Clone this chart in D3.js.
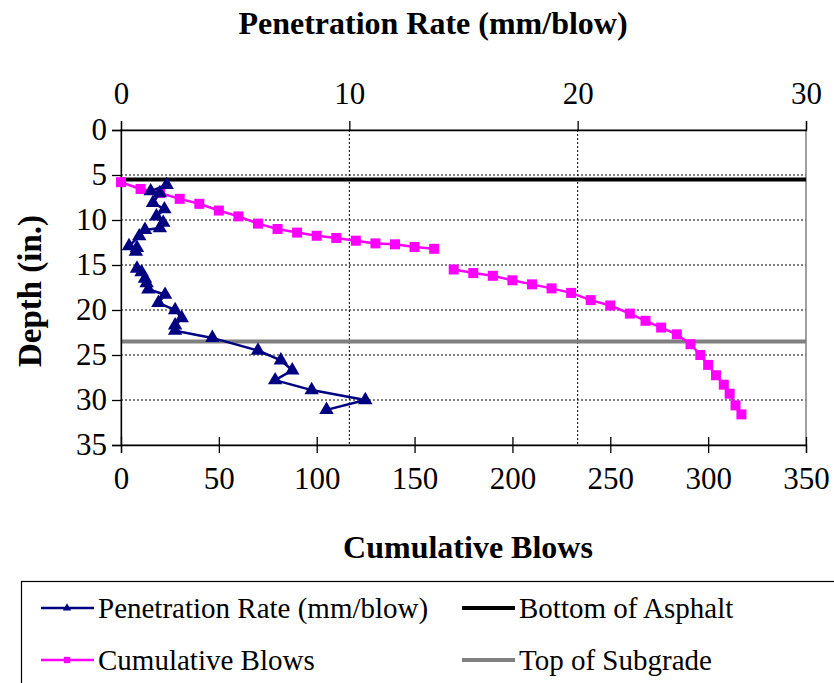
<!DOCTYPE html>
<html><head><meta charset="utf-8">
<script src="https://cdn.jsdelivr.net/npm/d3@7"></script>
<style>body{margin:0;background:#fff}svg text{font-family:"Liberation Serif",serif;fill:#000}</style>
</head><body><svg id="c" width="834" height="683"></svg>
<script>
// Penetration rate series (depth in., mm/blow); null marks a gap
const rateDepth = [6.1,6.8,7.0,8.1,8.8,9.6,10.3,10.9,11.1,11.8,12.9,13.1,13.5,null,15.4,15.8,16.5,17.0,17.7,18.3,19.2,20.0,20.9,21.7,22.3,23.1,24.5,25.6,26.7,27.8,28.9,30.0,31.1];
const rateValue = [2.0,1.3,1.7,1.4,1.9,1.55,1.85,1.7,1.05,0.8,0.35,0.7,0.65,null,0.7,0.9,1.05,1.12,1.2,1.93,1.64,2.37,2.66,2.37,2.37,4.0,6.0,7.0,7.5,6.75,8.35,10.7,9.0];
// Cumulative blows series
const blowsDepth = [5.8,6.55,7.0,7.65,8.2,8.95,9.6,10.4,11.0,11.4,11.75,12.0,12.3,12.6,12.7,13.0,13.2,null,15.5,15.9,16.2,16.7,17.15,17.6,18.1,18.9,19.5,20.4,21.2,21.95,22.7,23.8,25.0,26.1,27.25,28.3,29.3,30.6,31.6];
const blowsValue = [0,10,20,30,40,50,60,70,80,90,100,110,120,130,140,150,160,null,170,180,190,200,210,220,230,240,250,260,268,276,284,291,296,300,304,308,311,314,317];
const asphaltDepth = 5.5;
const subgradeDepth = 23.5;
const topTicks = [0,10,20,30];
const bottomTicks = [0,50,100,150,200,250,300,350];
const depthTicks = [0,5,10,15,20,25,30,35];
const gridTopTicks = [10,20];
const gridDepth = [5,10,15,20,25,30];

const FONT = '"Liberation Serif", serif';
const svg = d3.select("#c");
const L=121,R=806,T=130,B=445;
const xTop = d3.scaleLinear().domain([0,30]).range([L,R]);
const xBot = d3.scaleLinear().domain([0,350]).range([L,R]);
const y = d3.scaleLinear().domain([0,35]).range([T,B]);

// gridlines
svg.append("g").selectAll("line").data(gridDepth).join("line")
  .attr("x1",L).attr("x2",R).attr("y1",d=>y(d)).attr("y2",d=>y(d))
  .attr("stroke","#000").attr("stroke-width",1).attr("stroke-dasharray","2,2");
svg.append("g").selectAll("line").data(gridTopTicks).join("line")
  .attr("x1",d=>xTop(d)).attr("x2",d=>xTop(d)).attr("y1",T).attr("y2",B)
  .attr("stroke","#000").attr("stroke-width",1).attr("stroke-dasharray","2,2");

// plot border
svg.append("rect").attr("x",L).attr("y",T).attr("width",R-L).attr("height",B-T)
  .attr("fill","none").attr("stroke","#808080").attr("stroke-width",1.5);

// reference lines
svg.append("line").attr("x1",L).attr("x2",R).attr("y1",y(asphaltDepth)).attr("y2",y(asphaltDepth))
  .attr("stroke","#000").attr("stroke-width",4);
svg.append("line").attr("x1",L).attr("x2",R).attr("y1",y(subgradeDepth)).attr("y2",y(subgradeDepth))
  .attr("stroke","#808080").attr("stroke-width",4);

// axes
const fs = "31px";
const axTop = svg.append("g").attr("transform",`translate(0,${T})`)
  .call(d3.axisTop(xTop).tickValues(topTicks).tickSize(9).tickPadding(17).tickFormat(d3.format("d")));
const axBot = svg.append("g").attr("transform",`translate(0,${B})`)
  .call(d3.axisBottom(xBot).tickValues(bottomTicks).tickSize(8).tickPadding(14).tickFormat(d3.format("d")));
axBot.selectAll(".tick line").attr("y1",-8);
const axL = svg.append("g").attr("transform",`translate(${L},0)`)
  .call(d3.axisLeft(y).tickValues(depthTicks).tickSize(9).tickPadding(5).tickFormat(d3.format("d")));
[axTop,axBot,axL].forEach(a=>{
  a.attr("font-family",FONT);
  a.selectAll("text").style("font-size",fs).style("font-family",FONT);
  a.selectAll("line,path").attr("stroke","#000").attr("stroke-width",1.3);
});

// series
const navy="#000080", mag="#ff00ff";
const rateData = rateDepth.map((d,i)=>({d, v:rateValue[i]}));
const blowData = blowsDepth.map((d,i)=>({d, v:blowsValue[i]}));
const lr = d3.line().defined(p=>p.d!==null).x(p=>xTop(p.v)).y(p=>y(p.d));
const lb = d3.line().defined(p=>p.d!==null).x(p=>xBot(p.v)).y(p=>y(p.d));
svg.append("path").attr("d",lb(blowData)).attr("fill","none").attr("stroke",mag).attr("stroke-width",2.5);
svg.append("g").selectAll("path").data(blowData.filter(p=>p.d!==null)).join("path")
  .attr("d",d3.symbol(d3.symbolSquare,100)()).attr("fill",mag)
  .attr("transform",p=>`translate(${xBot(p.v)},${y(p.d)})`);
svg.append("path").attr("d",lr(rateData)).attr("fill","none").attr("stroke",navy).attr("stroke-width",2.5);
svg.append("g").selectAll("path").data(rateData.filter(p=>p.d!==null)).join("path")
  .attr("d",d3.symbol(d3.symbolTriangle,90)()).attr("fill",navy)
  .attr("transform",p=>`translate(${xTop(p.v)},${y(p.d)})`);

// titles
svg.append("text").attr("x",433).attr("y",34).attr("text-anchor","middle")
  .style("font-size","32px").style("font-weight","bold").text("Penetration Rate (mm/blow)");
svg.append("text").attr("x",468).attr("y",558).attr("text-anchor","middle")
  .style("font-size","32px").style("font-weight","bold").text("Cumulative Blows");
svg.append("text").attr("transform","translate(41,291) rotate(-90)").attr("text-anchor","middle")
  .style("font-size","33px").style("font-weight","bold").text("Depth (in.)");

// legend
svg.append("rect").attr("x",21.5).attr("y",581.5).attr("width",830).attr("height",120)
  .attr("fill","none").attr("stroke","#000").attr("stroke-width",1.2);
const legend = [
  {label:"Penetration Rate (mm/blow)", color:navy, w:2.5, sym:d3.symbolTriangle, sz:30, x:41, y:608},
  {label:"Bottom of Asphalt", color:"#000", w:4, sym:null, x:462, y:608},
  {label:"Cumulative Blows", color:mag, w:2.5, sym:d3.symbolSquare, sz:40, x:41, y:660},
  {label:"Top of Subgrade", color:"#808080", w:4, sym:null, x:462, y:660}
];
const lg = svg.append("g").selectAll("g").data(legend).join("g").attr("transform",d=>`translate(${d.x},${d.y})`);
lg.append("line").attr("x1",0).attr("x2",53).attr("stroke",d=>d.color).attr("stroke-width",d=>d.w);
lg.filter(d=>d.sym).append("path").attr("d",d=>d3.symbol(d.sym,d.sz)()).attr("fill",d=>d.color).attr("transform","translate(26,0)");
lg.append("text").attr("x",57).attr("y",10).style("font-size","29px").text(d=>d.label);
</script></body></html>
